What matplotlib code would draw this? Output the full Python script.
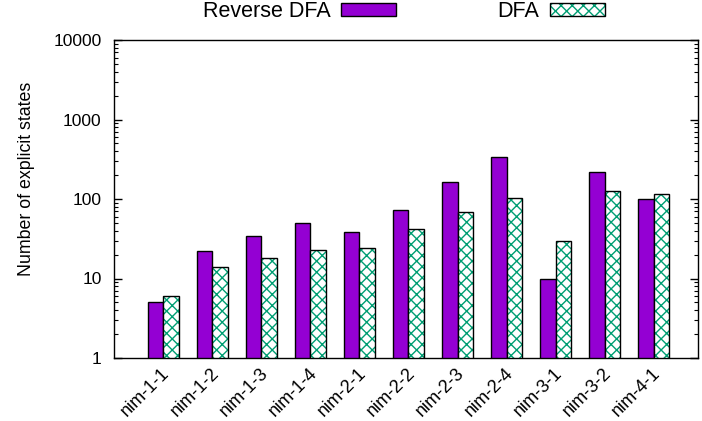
import numpy as np
import matplotlib
matplotlib.use("Agg")
import matplotlib.pyplot as plt
import matplotlib.transforms as mtransforms
from matplotlib.ticker import LogLocator, FixedLocator, NullFormatter

plt.rcParams['font.family'] = ['Liberation Sans', 'DejaVu Sans']
plt.rcParams['hatch.linewidth'] = 1.0

# data
instances = ['nim-1-1', 'nim-1-2', 'nim-1-3', 'nim-1-4', 'nim-2-1', 'nim-2-2',
             'nim-2-3', 'nim-2-4', 'nim-3-1', 'nim-3-2', 'nim-4-1']
reverse_dfa = [5, 22, 34, 50, 38, 73, 165, 340, 10, 220, 100]
dfa = [6, 14, 18, 23, 24, 42, 69, 102, 30, 125, 116]

purple = '#9400d3'
green = '#009e73'

fig = plt.figure(figsize=(7.02, 4.21), dpi=100)
ax = fig.add_axes([114/702, 1-358/421, (698-114)/702, (358-40)/421])

x = np.arange(len(instances))
w = 0.95/3

b1 = ax.bar(x - w/2, reverse_dfa, w, color=purple, edgecolor='black', linewidth=1.0)
b2h = ax.bar(x + w/2, dfa, w, color='white', edgecolor=green, hatch='xxx', linewidth=0)
b2 = ax.bar(x + w/2, dfa, w, color='none', edgecolor='black', linewidth=1.0)

ax.set_yscale('log')
ax.set_ylim(1, 10000)
ax.set_xlim(-1.0, 10.9)
ax.yaxis.set_major_locator(FixedLocator([1, 10, 100, 1000, 10000]))
ax.set_yticklabels(['1', '10', '100', '1000', '10000'])
ax.yaxis.set_minor_locator(LogLocator(base=10, subs=np.arange(2, 10)))
ax.yaxis.set_minor_formatter(NullFormatter())
ax.tick_params(axis='y', which='major', direction='in', length=6, width=1,
               right=True, labelsize=12.5, pad=9)
ax.tick_params(axis='y', which='minor', direction='in', length=3, width=0.8, right=True)

ax.set_xticks(x)
ax.set_xticklabels(instances, rotation=45, ha='right', va='top', rotation_mode='anchor')
ax.tick_params(axis='x', direction='in', length=5, labelsize=13, pad=5)
shift = mtransforms.ScaledTranslation(-2/100, 0, fig.dpi_scale_trans)
for lab in ax.get_xticklabels():
    lab.set_transform(lab.get_transform() + shift)

for s in ax.spines.values():
    s.set_linewidth(1.0)

ax.set_ylabel('Number of explicit states', fontsize=12.8)
ax.yaxis.set_label_coords(-0.136, 0.563)

fig.legend([b1[0], (b2h[0], b2[0])], ['Reverse DFA', 'DFA'], ncol=2, frameon=False,
           markerfirst=False, loc='center', bbox_to_anchor=(0.575, 0.972),
           fontsize=15.5, handlelength=2.55, handleheight=0.55, columnspacing=4.7,
           handletextpad=0.5, borderpad=0, borderaxespad=0)

fig.savefig('out.png', dpi=100)
